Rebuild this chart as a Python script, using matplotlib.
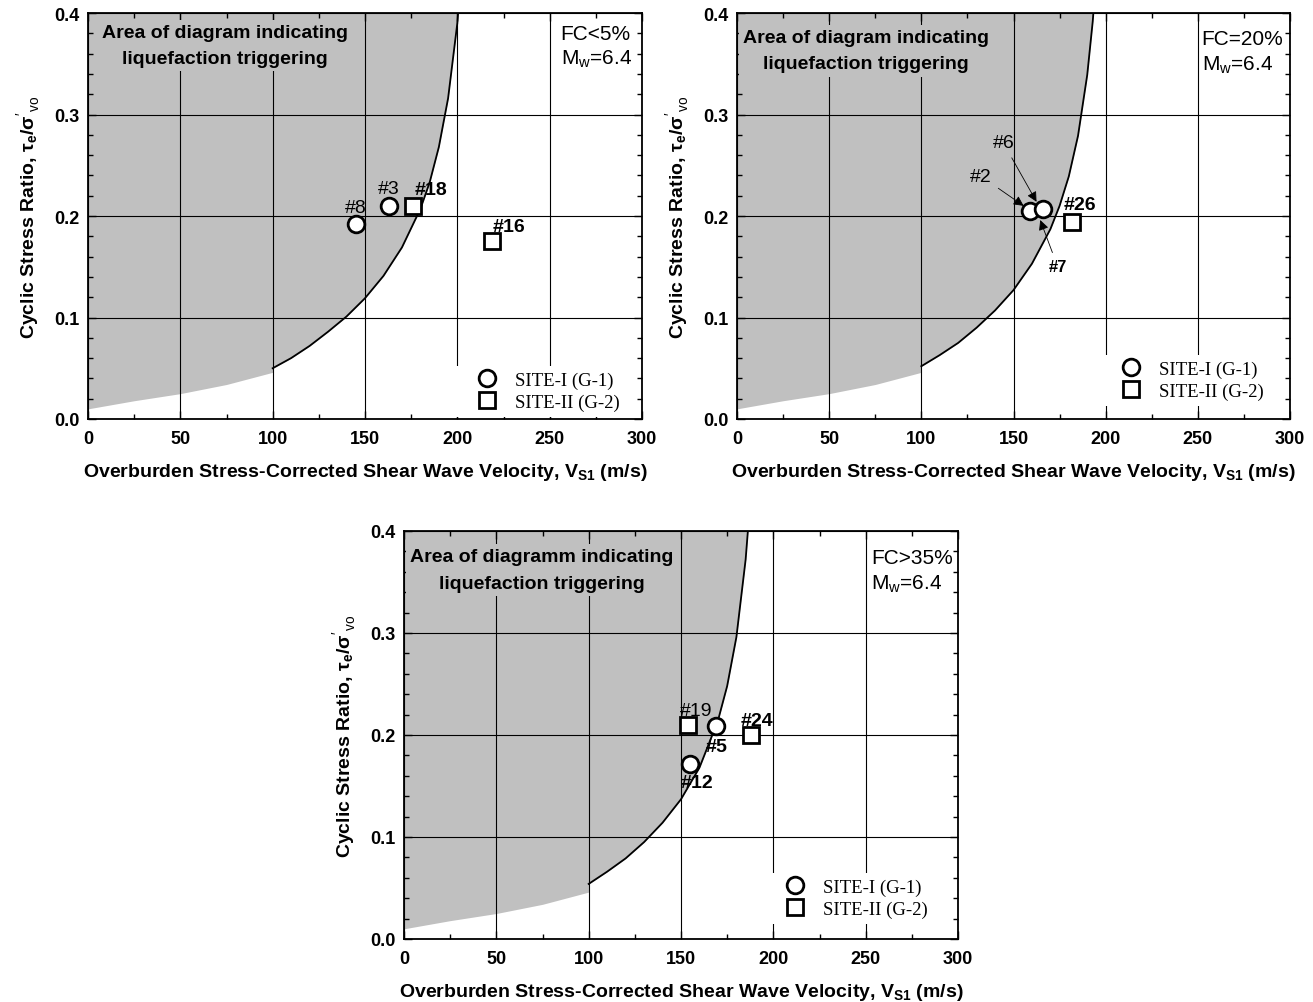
import numpy as np
import matplotlib
matplotlib.use('Agg')
import matplotlib.pyplot as plt
from matplotlib.ticker import MultipleLocator, FormatStrFormatter

plt.rcParams['font.family'] = ['Liberation Sans', 'DejaVu Sans']
plt.rcParams['mathtext.fontset'] = 'custom'
plt.rcParams['mathtext.rm'] = 'Liberation Sans'
plt.rcParams['mathtext.it'] = 'Liberation Sans:italic'
plt.rcParams['mathtext.bf'] = 'Liberation Sans:bold'

# lower part of the boundary (below 100 m/s, no line drawn)
vs_low = [0, 25, 50, 75, 100]
csr_low = [0.010, 0.018, 0.025, 0.034, 0.046]

# boundary curves
vs_fc5 = [100, 110, 120, 130, 140, 150, 160, 170, 180, 185, 190, 195, 200, 202]
csr_fc5 = [0.050, 0.060, 0.072, 0.086, 0.101, 0.119, 0.141, 0.169, 0.207, 0.233, 0.268, 0.316, 0.390, 0.438]
vs_fc20 = [100, 110, 120, 130, 140, 150, 160, 170, 175, 180, 185, 190, 193, 195]
csr_fc20 = [0.052, 0.063, 0.075, 0.090, 0.107, 0.127, 0.153, 0.187, 0.210, 0.239, 0.279, 0.339, 0.392, 0.441]
vs_fc35 = [100, 110, 120, 130, 140, 150, 160, 170, 175, 180, 185, 187]
csr_fc35 = [0.054, 0.066, 0.079, 0.095, 0.114, 0.137, 0.168, 0.214, 0.248, 0.296, 0.372, 0.418]

# site data
site1_fc5_vs = [145, 163]
site1_fc5_csr = [0.192, 0.210]
site1_fc5_lab = ['#8', '#3']
site2_fc5_vs = [176, 219]
site2_fc5_csr = [0.210, 0.175]
site2_fc5_lab = ['#18', '#16']

site1_fc20_vs = [159, 166]
site1_fc20_csr = [0.205, 0.207]
site2_fc20_vs = [182]
site2_fc20_csr = [0.194]
site2_fc20_lab = ['#26']

site1_fc35_vs = [155, 169]
site1_fc35_csr = [0.172, 0.209]
site1_fc35_lab = ['#12', '#5']
site2_fc35_vs = [154, 188]
site2_fc35_csr = [0.210, 0.200]
site2_fc35_lab = ['#19', '#24']

GRAY = '#c0c0c0'


def setup_panel(ax, vs_c, csr_c, fc_text, area_text, area_xy, fc_xy):
    xs = np.concatenate([vs_low, vs_c])
    ys = np.concatenate([csr_low, csr_c])
    ax.fill_between(xs, ys, 0.4, color=GRAY, lw=0, zorder=1)
    ax.plot(vs_c, csr_c, color='k', lw=1.3, zorder=3)
    ax.set_xlim(0, 300)
    ax.set_ylim(0, 0.4)
    ax.xaxis.set_major_locator(MultipleLocator(50))
    ax.xaxis.set_minor_locator(MultipleLocator(25))
    ax.yaxis.set_major_locator(MultipleLocator(0.1))
    ax.yaxis.set_minor_locator(MultipleLocator(0.02))
    ax.yaxis.set_major_formatter(FormatStrFormatter('%.1f'))
    ax.set_axisbelow(False)
    ax.grid(True, which='major', color='k', lw=0.8)
    ax.tick_params(which='both', direction='in', top=True, right=True)
    ax.tick_params(which='major', length=6, width=1.0, labelsize=13)
    ax.tick_params(axis='x', which='major', pad=8)
    ax.tick_params(axis='y', which='major', pad=6)
    ax.tick_params(which='minor', length=3.5, width=1.0)
    for lb in ax.get_xticklabels() + ax.get_yticklabels():
        lb.set_fontweight('bold')
    for s in ax.spines.values():
        s.set_linewidth(1.3)
    ax.set_xlabel(r'Overburden Stress-Corrected Shear Wave Velocity, V$_{\mathbf{S1}}$ (m/s)',
                  fontsize=14, fontweight='bold', labelpad=10)
    ax.set_ylabel("Cyclic Stress Ratio, τ$_{\\mathbf{e}}$/σ$^{\\prime}_{\\ \\mathrm{vo}}$",
                  fontsize=14, fontweight='bold', labelpad=9)
    ax.text(area_xy[0], area_xy[1], area_text, ha='center', va='center', fontsize=14,
            fontweight='bold', linespacing=1.75, zorder=3,
            bbox=dict(facecolor=GRAY, edgecolor='none', pad=3))
    ax.text(fc_xy[0], fc_xy[1], fc_text + '\n' + r'M$_{\mathrm{w}}$=6.4', ha='left', va='center',
            fontsize=15, linespacing=1.35, zorder=3)


def site_points(ax, vs1, csr1, vs2, csr2, leg_anchor):
    ax.plot(vs1, csr1, 'o', ms=12, mfc='white', mec='k', mew=2.0, zorder=4, label='SITE-I (G-1)')
    ax.plot(vs2, csr2, 's', ms=11, mfc='white', mec='k', mew=2.0, zorder=4, label='SITE-II (G-2)')
    leg = ax.legend(loc='lower right', bbox_to_anchor=leg_anchor, frameon=True, framealpha=1,
                    edgecolor='none', facecolor='white', fancybox=False, handlelength=3.0,
                    handletextpad=0.0, labelspacing=0.25, borderpad=0.3,
                    prop={'family': 'Liberation Serif', 'size': 13.5})
    leg.set_zorder(5)


fig = plt.figure(figsize=(13.13, 10.03), dpi=100)

ax1 = fig.add_axes([88 / 1313, 1 - 420 / 1003, 554 / 1313, 406 / 1003])
setup_panel(ax1, vs_fc5, csr_fc5, 'FC<5%', 'Area of diagram indicating\nliquefaction triggering',
            (74, 0.368), (256, 0.367))
site_points(ax1, site1_fc5_vs, site1_fc5_csr, site2_fc5_vs, site2_fc5_csr, (0.987, -0.017))
ax1.text(145, 0.208, site1_fc5_lab[0], ha='center', va='center', fontsize=14, zorder=5)
ax1.text(163, 0.227, site1_fc5_lab[1], ha='center', va='center', fontsize=14, zorder=5)
ax1.text(186, 0.226, site2_fc5_lab[0], ha='center', va='center', fontsize=14, fontweight='bold', zorder=5)
ax1.text(228, 0.190, site2_fc5_lab[1], ha='center', va='center', fontsize=14, fontweight='bold', zorder=5)

ax2 = fig.add_axes([737 / 1313, 1 - 420 / 1003, 553 / 1313, 406 / 1003])
setup_panel(ax2, vs_fc20, csr_fc20, 'FC=20%', 'Area of diagram indicating\nliquefaction triggering',
            (70, 0.363), (252, 0.3615))
site_points(ax2, site1_fc20_vs, site1_fc20_csr, site2_fc20_vs, site2_fc20_csr, (0.98, 0.01))
arrow = dict(arrowstyle='-|>', color='k', lw=0.6, mutation_scale=15, shrinkA=3, shrinkB=0)
ax2.annotate('#6', xy=(162.5, 0.214), xytext=(144.5, 0.272), ha='center', va='center',
             fontsize=14, arrowprops=arrow, zorder=5)
ax2.annotate('#2', xy=(155.5, 0.210), xytext=(132.5, 0.239), ha='center', va='center',
             fontsize=14, arrowprops=arrow, zorder=5)
ax2.annotate('#7', xy=(164.5, 0.196), xytext=(174, 0.150), ha='center', va='center',
             fontsize=12, fontweight='bold', arrowprops=arrow, zorder=5)
ax2.text(186, 0.211, site2_fc20_lab[0], ha='center', va='center', fontsize=14, fontweight='bold', zorder=5)

ax3 = fig.add_axes([404 / 1313, 1 - 940 / 1003, 554 / 1313, 408 / 1003])
setup_panel(ax3, vs_fc35, csr_fc35, 'FC>35%', 'Area of diagramm indicating\nliquefaction triggering',
            (74.5, 0.362), (253, 0.3605))
site_points(ax3, site1_fc35_vs, site1_fc35_csr, site2_fc35_vs, site2_fc35_csr, (0.972, 0.015))
ax3.text(158.6, 0.153, site1_fc35_lab[0], ha='center', va='center', fontsize=14, fontweight='bold', zorder=5)
ax3.text(169, 0.189, site1_fc35_lab[1], ha='center', va='center', fontsize=14, fontweight='bold', zorder=5)
ax3.text(158, 0.2245, site2_fc35_lab[0], ha='center', va='center', fontsize=14, zorder=5)
ax3.text(191, 0.2147, site2_fc35_lab[1], ha='center', va='center', fontsize=14, fontweight='bold', zorder=5)

fig.savefig('out.png', dpi=100)
